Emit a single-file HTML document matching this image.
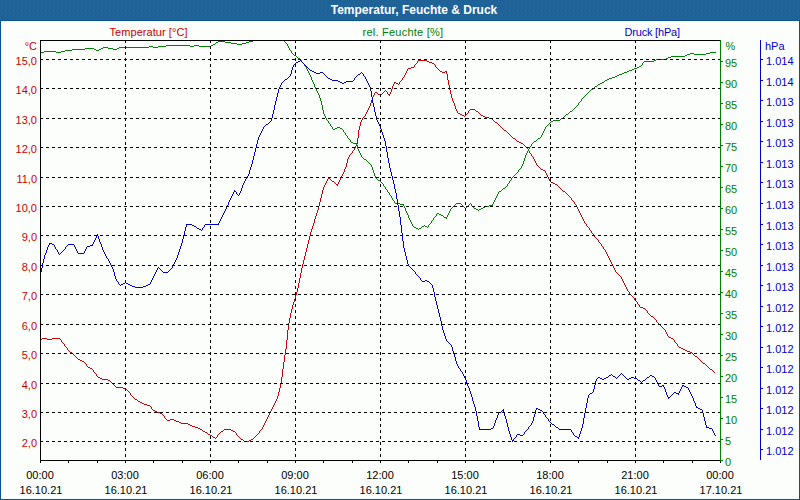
<!DOCTYPE html>
<html lang="de"><head><meta charset="utf-8"><title>Temperatur, Feuchte &amp; Druck</title>
<style>
html,body{margin:0;padding:0;background:#08548f;overflow:hidden}
svg{display:block}
text{font-family:"Liberation Sans", sans-serif;font-size:11px}
.t{font-weight:bold;fill:#fff;font-size:12px}
.r{fill:#cc0000}.g{fill:#008000}.b{fill:#0000cc}.k{fill:#000}
.ln{fill:none;stroke-width:1;shape-rendering:crispEdges}
</style></head><body>
<svg width="800" height="500" viewBox="0 0 800 500">
<rect x="0" y="0" width="800" height="500" fill="#08548f"/>
<defs><pattern id="dz" width="4" height="6" patternUnits="userSpaceOnUse"><rect width="4" height="6" fill="#1e6298"/><rect x="1" y="3" width="1" height="1" fill="#2466b0"/><rect x="0" y="5" width="1" height="1" fill="#2466b0"/><rect x="2" y="1" width="1" height="1" fill="#2466b0"/></pattern></defs>
<rect x="0" y="0" width="800" height="20" fill="#1e6298"/>
<rect x="0" y="0" width="800" height="20" fill="url(#dz)" shape-rendering="crispEdges"/>
<rect x="1" y="21" width="798" height="478" fill="#fcfefc"/>
<text class="t" x="414" y="14" text-anchor="middle">Temperatur, Feuchte &amp; Druck</text>
<text class="r" x="109.5" y="36" textLength="78">Temperatur [°C]</text>
<text class="g" x="362.5" y="36" textLength="80.5">rel. Feuchte [%]</text>
<text class="b" x="624.5" y="36" textLength="55.5">Druck [hPa]</text>
<path class="ln" stroke="#cc0000" d="M277.5 396v3M278.5 392v4M279.5 388v4M280.5 383v5M281.5 377v6M282.5 369v8M283.5 362v7M284.5 355v7M285.5 349v6M286.5 340v9M287.5 330v10M288.5 323v7M289.5 318v5M290.5 313v5M291.5 309v4M292.5 305v4M293.5 302v3M294.5 299v3M295.5 295v4M296.5 292v3M297.5 288v4M298.5 283v5M299.5 278v5M300.5 273v5M301.5 268v5M302.5 264v4M303.5 260v4M304.5 256v4M305.5 252v4M306.5 248v4M307.5 244v4M308.5 240v4M309.5 236v4M310.5 232v4M311.5 229v3M312.5 226v3M313.5 223v3M314.5 219v4M315.5 216v3M316.5 213v3M317.5 210v3M318.5 206v4M319.5 202v4M320.5 198v4M321.5 194v4M322.5 190v4M323.5 187v3M344.5 169v3M346.5 163v4M347.5 159v4M357.5 138v6M358.5 130v8M359.5 126v4M360.5 122v4M370.5 103v3M371.5 100v3M372.5 97v3M391.5 89v3M392.5 86v3M446.5 71v3M447.5 74v6M448.5 80v5M449.5 85v5M450.5 90v4M451.5 94v4M452.5 98v3M454.5 103v3M455.5 106v3M418 60.5h9M417 61.5h1M427 61.5h2M417 62.5h1M429 62.5h3M416 63.5h1M432 63.5h2M415 64.5h1M434 64.5h1M414 65.5h1M435 65.5h1M414 66.5h1M435 66.5h1M411 67.5h3M436 67.5h1M408 68.5h3M437 68.5h1M407 69.5h1M438 69.5h1M407 70.5h1M439 70.5h1M406 71.5h1M440 71.5h2M445 71.5h1M406 72.5h1M442 72.5h3M405 73.5h1M405 74.5h1M404 75.5h1M404 76.5h1M403 77.5h1M402 78.5h1M402 79.5h1M401 80.5h1M400 81.5h1M394 82.5h2M399 82.5h1M394 83.5h1M396 83.5h2M399 83.5h1M393 84.5h1M398 84.5h1M393 85.5h1M385 90.5h1M384 91.5h1M386 91.5h1M375 92.5h2M383 92.5h1M387 92.5h1M390 92.5h1M374 93.5h1M377 93.5h1M382 93.5h1M387 93.5h1M390 93.5h1M374 94.5h1M378 94.5h2M381 94.5h1M388 94.5h2M373 95.5h1M380 95.5h1M389 95.5h1M373 96.5h1M453 101.5h1M453 102.5h1M369 106.5h1M369 107.5h1M368 108.5h1M368 109.5h1M456 109.5h1M470 109.5h5M367 110.5h1M456 110.5h1M469 110.5h1M475 110.5h1M367 111.5h1M457 111.5h1M468 111.5h1M476 111.5h2M366 112.5h1M457 112.5h1M468 112.5h1M478 112.5h1M366 113.5h1M458 113.5h2M467 113.5h1M479 113.5h1M365 114.5h1M460 114.5h2M466 114.5h1M480 114.5h1M365 115.5h1M462 115.5h2M465 115.5h1M481 115.5h2M364 116.5h1M464 116.5h1M483 116.5h2M363 117.5h1M485 117.5h4M362 118.5h1M489 118.5h3M362 119.5h1M492 119.5h1M361 120.5h1M493 120.5h1M361 121.5h1M494 121.5h1M495 122.5h2M497 123.5h1M498 124.5h1M499 125.5h1M500 126.5h1M501 127.5h1M502 128.5h1M503 129.5h1M504 130.5h2M506 131.5h1M507 132.5h1M508 133.5h1M509 134.5h1M510 135.5h1M511 136.5h1M512 137.5h1M513 138.5h2M515 139.5h1M516 140.5h1M517 141.5h2M519 142.5h2M521 143.5h2M356 144.5h1M523 144.5h1M356 145.5h1M524 145.5h1M355 146.5h1M525 146.5h1M355 147.5h1M526 147.5h1M354 148.5h1M527 148.5h1M354 149.5h1M528 149.5h1M353 150.5h1M528 150.5h1M352 151.5h1M529 151.5h1M352 152.5h1M529 152.5h1M351 153.5h1M530 153.5h1M350 154.5h1M531 154.5h1M349 155.5h1M531 155.5h1M349 156.5h1M532 156.5h1M348 157.5h1M533 157.5h1M348 158.5h1M533 158.5h1M534 159.5h1M534 160.5h1M535 161.5h1M535 162.5h1M536 163.5h1M536 164.5h1M537 165.5h1M538 166.5h1M345 167.5h1M539 167.5h1M345 168.5h1M540 168.5h1M541 169.5h2M543 170.5h2M545 171.5h1M343 172.5h1M545 172.5h1M343 173.5h1M546 173.5h1M342 174.5h1M546 174.5h1M342 175.5h1M547 175.5h1M341 176.5h1M547 176.5h1M328 177.5h1M341 177.5h1M548 177.5h1M328 178.5h2M340 178.5h1M548 178.5h1M327 179.5h1M330 179.5h1M340 179.5h1M549 179.5h1M327 180.5h1M331 180.5h1M339 180.5h1M549 180.5h1M326 181.5h1M332 181.5h2M339 181.5h1M550 181.5h1M326 182.5h1M334 182.5h1M338 182.5h1M551 182.5h2M325 183.5h1M335 183.5h1M338 183.5h1M553 183.5h2M325 184.5h1M336 184.5h2M555 184.5h2M324 185.5h1M337 185.5h1M557 185.5h1M324 186.5h1M558 186.5h1M559 187.5h1M560 188.5h1M561 189.5h1M562 190.5h1M563 191.5h2M565 192.5h1M566 193.5h1M567 194.5h1M568 195.5h1M569 196.5h1M570 197.5h1M571 198.5h1M571 199.5h1M572 200.5h1M573 201.5h1M574 202.5h1M574 203.5h1M575 204.5h1M576 205.5h1M576 206.5h1M577 207.5h1M577 208.5h1M578 209.5h1M578 210.5h1M579 211.5h1M579 212.5h1M580 213.5h1M580 214.5h1M581 215.5h1M581 216.5h1M582 217.5h1M582 218.5h1M583 219.5h1M583 220.5h1M584 221.5h1M584 222.5h1M585 223.5h1M586 224.5h1M586 225.5h1M587 226.5h1M588 227.5h1M589 228.5h1M589 229.5h1M590 230.5h1M591 231.5h1M591 232.5h1M592 233.5h1M593 234.5h1M594 235.5h1M594 236.5h1M595 237.5h1M596 238.5h1M597 239.5h1M598 240.5h1M598 241.5h1M599 242.5h1M600 243.5h1M601 244.5h1M601 245.5h1M602 246.5h1M603 247.5h1M603 248.5h1M604 249.5h1M605 250.5h1M605 251.5h1M606 252.5h1M606 253.5h1M607 254.5h1M607 255.5h1M608 256.5h1M608 257.5h1M609 258.5h1M609 259.5h1M610 260.5h1M610 261.5h1M611 262.5h1M611 263.5h1M612 264.5h1M612 265.5h1M613 266.5h1M613 267.5h1M614 268.5h1M614 269.5h1M615 270.5h1M615 271.5h1M616 272.5h1M617 273.5h1M618 274.5h1M619 275.5h1M620 276.5h1M621 277.5h1M621 278.5h1M622 279.5h1M622 280.5h1M623 281.5h1M623 282.5h1M624 283.5h1M624 284.5h1M625 285.5h1M625 286.5h1M626 287.5h1M626 288.5h1M627 289.5h1M627 290.5h1M628 291.5h1M629 292.5h1M629 293.5h1M630 294.5h1M631 295.5h1M632 296.5h1M633 297.5h1M634 298.5h1M634 299.5h1M635 300.5h1M636 301.5h1M637 302.5h1M637 303.5h1M638 304.5h1M639 305.5h1M639 306.5h1M640 307.5h3M643 308.5h2M645 309.5h1M646 310.5h1M647 311.5h1M647 312.5h1M648 313.5h1M649 314.5h1M650 315.5h1M651 316.5h2M653 317.5h1M654 318.5h1M655 319.5h1M656 320.5h1M656 321.5h1M657 322.5h1M658 323.5h1M659 324.5h1M660 325.5h1M661 326.5h1M662 327.5h1M663 328.5h1M664 329.5h1M665 330.5h1M665 331.5h1M666 332.5h1M666 333.5h1M667 334.5h1M667 335.5h1M668 336.5h1M669 337.5h2M42 338.5h5M52 338.5h8M671 338.5h2M40 339.5h2M47 339.5h5M60 339.5h1M673 339.5h1M61 340.5h1M674 340.5h1M61 341.5h1M674 341.5h1M62 342.5h1M675 342.5h1M63 343.5h1M676 343.5h1M64 344.5h1M677 344.5h1M64 345.5h1M677 345.5h1M65 346.5h1M678 346.5h1M66 347.5h1M679 347.5h2M67 348.5h1M681 348.5h2M67 349.5h1M683 349.5h2M68 350.5h1M685 350.5h2M69 351.5h1M687 351.5h3M70 352.5h2M690 352.5h2M72 353.5h1M692 353.5h1M73 354.5h1M693 354.5h1M74 355.5h1M694 355.5h1M75 356.5h1M695 356.5h2M76 357.5h1M697 357.5h1M77 358.5h1M698 358.5h1M78 359.5h2M699 359.5h1M80 360.5h2M700 360.5h1M82 361.5h2M701 361.5h1M84 362.5h1M702 362.5h1M85 363.5h1M703 363.5h2M86 364.5h1M705 364.5h1M86 365.5h1M706 365.5h1M87 366.5h1M707 366.5h1M88 367.5h2M708 367.5h1M90 368.5h2M709 368.5h1M92 369.5h1M710 369.5h2M93 370.5h1M712 370.5h1M93 371.5h1M713 371.5h1M94 372.5h1M714 372.5h1M95 373.5h1M96 374.5h1M96 375.5h1M97 376.5h1M98 377.5h2M100 378.5h2M102 379.5h6M108 380.5h2M110 381.5h1M111 382.5h1M112 383.5h1M113 384.5h1M114 385.5h1M115 386.5h1M116 387.5h7M123 388.5h2M125 389.5h2M127 390.5h1M128 391.5h1M129 392.5h1M130 393.5h1M130 394.5h1M131 395.5h1M132 396.5h1M133 397.5h1M134 398.5h1M135 399.5h2M276 399.5h1M137 400.5h1M276 400.5h1M138 401.5h2M275 401.5h1M140 402.5h2M275 402.5h1M142 403.5h2M274 403.5h1M144 404.5h3M274 404.5h1M147 405.5h3M273 405.5h1M150 406.5h1M273 406.5h1M151 407.5h1M272 407.5h1M151 408.5h1M272 408.5h1M152 409.5h1M271 409.5h1M153 410.5h2M271 410.5h1M155 411.5h2M270 411.5h1M157 412.5h3M270 412.5h1M160 413.5h2M269 413.5h1M162 414.5h1M269 414.5h1M163 415.5h1M268 415.5h1M164 416.5h1M268 416.5h1M164 417.5h1M267 417.5h1M165 418.5h1M267 418.5h1M166 419.5h1M170 419.5h4M266 419.5h1M167 420.5h3M174 420.5h2M266 420.5h1M176 421.5h3M265 421.5h1M179 422.5h2M265 422.5h1M181 423.5h7M264 423.5h1M188 424.5h2M264 424.5h1M190 425.5h2M263 425.5h1M192 426.5h3M263 426.5h1M195 427.5h3M262 427.5h1M198 428.5h2M262 428.5h1M200 429.5h2M224 429.5h7M261 429.5h1M202 430.5h1M223 430.5h1M231 430.5h2M260 430.5h1M203 431.5h2M221 431.5h2M233 431.5h2M259 431.5h1M205 432.5h2M220 432.5h1M235 432.5h1M259 432.5h1M207 433.5h1M219 433.5h1M236 433.5h1M258 433.5h1M208 434.5h2M218 434.5h1M236 434.5h1M257 434.5h1M210 435.5h2M217 435.5h1M237 435.5h1M256 435.5h1M212 436.5h1M217 436.5h1M238 436.5h1M255 436.5h1M213 437.5h2M216 437.5h1M239 437.5h1M254 437.5h1M215 438.5h1M240 438.5h1M253 438.5h1M241 439.5h2M251 439.5h2M243 440.5h1M249 440.5h2M244 441.5h5"/>
<path class="ln" stroke="#008000" d="M311.5 77v3M314.5 84v3M319.5 95v3M320.5 98v3M321.5 101v4M322.5 105v5M323.5 110v4M357.5 145v4M372.5 167v3M373.5 170v3M374.5 173v3M405.5 208v3M408.5 215v3M523.5 161v3M524.5 158v3M525.5 155v3M253 40.5h31M218 41.5h7M249 41.5h4M284 41.5h1M216 42.5h2M225 42.5h6M246 42.5h3M285 42.5h1M215 43.5h1M231 43.5h6M242 43.5h4M286 43.5h1M213 44.5h2M237 44.5h5M287 44.5h1M166 45.5h24M194 45.5h5M211 45.5h2M287 45.5h1M149 46.5h4M158 46.5h8M190 46.5h4M199 46.5h12M288 46.5h1M103 47.5h5M119 47.5h30M153 47.5h5M288 47.5h1M85 48.5h9M101 48.5h2M108 48.5h5M117 48.5h2M289 48.5h1M72 49.5h13M94 49.5h2M99 49.5h2M113 49.5h4M289 49.5h1M65 50.5h7M96 50.5h3M290 50.5h1M44 51.5h12M61 51.5h4M291 51.5h1M40 52.5h4M56 52.5h5M291 52.5h1M710 52.5h6M292 53.5h1M690 53.5h4M706 53.5h4M293 54.5h1M687 54.5h3M694 54.5h12M294 55.5h2M685 55.5h2M296 56.5h1M671 56.5h14M297 57.5h1M668 57.5h3M298 58.5h2M666 58.5h2M300 59.5h1M656 59.5h10M301 60.5h1M654 60.5h2M301 61.5h1M644 61.5h10M302 62.5h1M643 62.5h1M303 63.5h1M642 63.5h1M304 64.5h1M642 64.5h1M304 65.5h1M641 65.5h1M305 66.5h1M639 66.5h2M306 67.5h1M637 67.5h2M306 68.5h1M634 68.5h3M307 69.5h1M632 69.5h2M307 70.5h1M629 70.5h3M308 71.5h1M627 71.5h2M308 72.5h1M624 72.5h3M309 73.5h1M622 73.5h2M309 74.5h1M619 74.5h3M310 75.5h1M617 75.5h2M310 76.5h1M615 76.5h2M612 77.5h3M609 78.5h3M607 79.5h2M312 80.5h1M605 80.5h2M312 81.5h1M604 81.5h1M313 82.5h1M602 82.5h2M313 83.5h1M600 83.5h2M598 84.5h2M597 85.5h1M595 86.5h2M315 87.5h1M594 87.5h1M315 88.5h1M593 88.5h1M316 89.5h1M591 89.5h2M316 90.5h1M590 90.5h1M317 91.5h1M589 91.5h1M317 92.5h1M588 92.5h1M318 93.5h1M587 93.5h1M318 94.5h1M586 94.5h1M585 95.5h1M584 96.5h1M583 97.5h1M582 98.5h1M581 99.5h1M581 100.5h1M580 101.5h1M579 102.5h1M578 103.5h1M578 104.5h1M577 105.5h1M576 106.5h1M575 107.5h1M574 108.5h1M573 109.5h1M572 110.5h1M570 111.5h2M569 112.5h1M568 113.5h1M324 114.5h1M566 114.5h2M324 115.5h1M565 115.5h1M325 116.5h1M564 116.5h1M325 117.5h1M563 117.5h1M326 118.5h1M561 118.5h2M326 119.5h1M560 119.5h1M327 120.5h1M553 120.5h7M328 121.5h1M551 121.5h2M328 122.5h1M550 122.5h1M329 123.5h1M549 123.5h1M330 124.5h1M548 124.5h1M330 125.5h1M547 125.5h1M331 126.5h1M546 126.5h1M332 127.5h1M337 127.5h3M545 127.5h1M332 128.5h1M335 128.5h2M340 128.5h2M545 128.5h1M333 129.5h2M342 129.5h1M544 129.5h1M343 130.5h1M544 130.5h1M343 131.5h1M543 131.5h1M344 132.5h1M543 132.5h1M345 133.5h1M542 133.5h1M345 134.5h1M542 134.5h1M346 135.5h1M541 135.5h1M347 136.5h1M541 136.5h1M347 137.5h1M540 137.5h1M348 138.5h1M538 138.5h2M349 139.5h1M537 139.5h1M350 140.5h1M536 140.5h1M350 141.5h1M534 141.5h2M351 142.5h2M533 142.5h1M353 143.5h4M532 143.5h1M356 144.5h1M531 144.5h1M531 145.5h1M530 146.5h1M529 147.5h1M529 148.5h1M358 149.5h1M528 149.5h1M358 150.5h1M528 150.5h1M359 151.5h1M527 151.5h1M359 152.5h1M527 152.5h1M360 153.5h1M526 153.5h1M360 154.5h1M526 154.5h1M361 155.5h1M361 156.5h1M362 157.5h1M363 158.5h1M364 159.5h2M366 160.5h1M367 161.5h1M368 162.5h1M369 163.5h1M370 164.5h1M522 164.5h1M371 165.5h1M522 165.5h1M371 166.5h1M521 166.5h1M521 167.5h1M520 168.5h1M519 169.5h1M518 170.5h1M518 171.5h1M517 172.5h1M516 173.5h1M515 174.5h1M514 175.5h1M375 176.5h1M513 176.5h1M375 177.5h1M512 177.5h1M376 178.5h1M511 178.5h1M377 179.5h1M511 179.5h1M378 180.5h2M510 180.5h1M380 181.5h1M509 181.5h1M381 182.5h1M509 182.5h1M382 183.5h1M508 183.5h1M383 184.5h1M507 184.5h1M383 185.5h1M507 185.5h1M384 186.5h1M506 186.5h1M385 187.5h1M505 187.5h1M385 188.5h1M503 188.5h2M386 189.5h1M502 189.5h1M387 190.5h1M501 190.5h1M387 191.5h1M499 191.5h2M388 192.5h1M498 192.5h1M389 193.5h1M498 193.5h1M389 194.5h1M497 194.5h1M390 195.5h1M497 195.5h1M391 196.5h1M496 196.5h1M391 197.5h1M496 197.5h1M392 198.5h1M495 198.5h1M392 199.5h1M495 199.5h1M393 200.5h1M494 200.5h1M394 201.5h1M494 201.5h1M394 202.5h1M493 202.5h1M395 203.5h5M456 203.5h5M470 203.5h1M493 203.5h1M400 204.5h4M455 204.5h1M461 204.5h1M469 204.5h1M471 204.5h1M492 204.5h1M403 205.5h1M454 205.5h1M462 205.5h1M468 205.5h1M471 205.5h1M489 205.5h4M404 206.5h1M453 206.5h1M463 206.5h1M467 206.5h1M472 206.5h1M485 206.5h4M404 207.5h1M452 207.5h1M464 207.5h1M466 207.5h1M473 207.5h1M483 207.5h2M451 208.5h1M465 208.5h1M474 208.5h2M481 208.5h2M450 209.5h1M476 209.5h2M479 209.5h2M450 210.5h1M478 210.5h1M406 211.5h1M449 211.5h1M406 212.5h1M449 212.5h1M407 213.5h1M437 213.5h2M448 213.5h1M407 214.5h1M436 214.5h1M439 214.5h2M448 214.5h1M436 215.5h1M441 215.5h2M447 215.5h1M435 216.5h1M443 216.5h1M447 216.5h1M434 217.5h1M444 217.5h3M409 218.5h1M433 218.5h1M446 218.5h1M409 219.5h1M433 219.5h1M410 220.5h1M432 220.5h1M410 221.5h1M431 221.5h1M411 222.5h1M431 222.5h1M411 223.5h1M430 223.5h1M412 224.5h1M429 224.5h1M412 225.5h1M424 225.5h1M428 225.5h1M413 226.5h1M422 226.5h2M425 226.5h2M428 226.5h1M414 227.5h2M421 227.5h1M427 227.5h1M416 228.5h2M419 228.5h2M418 229.5h1"/>
<path class="ln" stroke="#0000cc" d="M40.5 272v3M41.5 268v4M42.5 263v5M43.5 259v4M44.5 255v4M46.5 250v3M47.5 247v3M98.5 236v3M99.5 239v3M101.5 244v3M102.5 247v3M113.5 269v3M114.5 272v4M115.5 276v3M177.5 255v3M178.5 252v3M179.5 249v3M180.5 246v3M181.5 243v3M182.5 239v4M183.5 235v4M184.5 231v4M185.5 227v4M186.5 224v3M228.5 202v3M241.5 188v3M242.5 185v3M249.5 170v4M250.5 167v3M251.5 164v3M252.5 160v4M253.5 156v4M254.5 152v4M255.5 148v4M256.5 144v4M257.5 140v4M258.5 137v3M271.5 118v3M272.5 114v4M273.5 110v4M274.5 105v5M275.5 101v4M276.5 97v4M277.5 93v4M278.5 89v4M291.5 70v4M292.5 67v3M370.5 87v4M371.5 91v6M372.5 97v6M373.5 103v4M374.5 107v5M375.5 112v4M376.5 116v4M380.5 126v3M381.5 129v3M382.5 132v3M383.5 135v3M384.5 138v3M385.5 141v5M386.5 146v6M387.5 152v6M388.5 158v5M389.5 163v5M390.5 168v4M391.5 172v4M392.5 176v4M393.5 180v4M394.5 184v5M395.5 189v4M396.5 193v6M397.5 199v6M398.5 205v6M399.5 211v6M400.5 217v8M401.5 225v8M402.5 233v8M403.5 241v7M404.5 248v4M405.5 252v4M406.5 256v4M407.5 260v4M432.5 285v3M433.5 288v4M434.5 292v5M435.5 297v4M436.5 301v4M437.5 305v4M438.5 309v4M439.5 313v4M440.5 317v4M441.5 321v5M442.5 326v4M443.5 330v3M444.5 333v3M445.5 336v3M452.5 347v4M453.5 351v3M454.5 354v3M455.5 357v4M456.5 361v3M466.5 380v3M467.5 383v3M469.5 388v3M470.5 391v3M471.5 394v3M472.5 397v4M473.5 401v3M474.5 404v3M475.5 407v4M476.5 411v5M477.5 416v5M478.5 421v6M479.5 427v3M494.5 423v3M495.5 420v3M497.5 415v3M503.5 409v3M504.5 412v4M505.5 416v3M506.5 419v4M507.5 423v4M508.5 427v4M509.5 431v3M510.5 434v3M511.5 437v3M533.5 417v4M534.5 414v3M535.5 410v4M579.5 434v3M580.5 431v3M581.5 428v3M582.5 424v4M583.5 418v6M584.5 413v5M585.5 408v5M586.5 403v5M587.5 398v5M588.5 395v3M593.5 389v3M594.5 385v4M595.5 381v4M665.5 389v3M666.5 392v3M693.5 398v3M695.5 403v3M702.5 410v3M703.5 413v4M704.5 417v4M705.5 421v4M706.5 425v3M300 60.5h1M298 61.5h2M301 61.5h1M296 62.5h2M302 62.5h1M295 63.5h1M303 63.5h1M294 64.5h1M304 64.5h1M293 65.5h1M305 65.5h1M293 66.5h1M306 66.5h1M307 67.5h1M308 68.5h1M309 69.5h1M310 70.5h2M312 71.5h2M314 72.5h2M320 72.5h3M361 72.5h1M316 73.5h4M323 73.5h1M360 73.5h1M362 73.5h1M290 74.5h1M324 74.5h1M358 74.5h2M363 74.5h1M290 75.5h1M325 75.5h1M357 75.5h1M363 75.5h1M289 76.5h1M326 76.5h1M356 76.5h1M364 76.5h1M288 77.5h1M327 77.5h1M355 77.5h1M365 77.5h1M287 78.5h1M328 78.5h2M354 78.5h1M365 78.5h1M285 79.5h2M330 79.5h2M354 79.5h1M366 79.5h1M284 80.5h1M332 80.5h6M353 80.5h1M366 80.5h1M283 81.5h1M338 81.5h2M346 81.5h7M367 81.5h1M282 82.5h1M340 82.5h2M344 82.5h2M367 82.5h1M281 83.5h1M342 83.5h2M368 83.5h1M281 84.5h1M368 84.5h1M280 85.5h1M369 85.5h1M280 86.5h1M369 86.5h1M279 87.5h1M279 88.5h1M377 120.5h1M270 121.5h1M377 121.5h1M269 122.5h1M378 122.5h1M268 123.5h1M378 123.5h1M266 124.5h2M379 124.5h1M265 125.5h1M379 125.5h1M264 126.5h1M263 127.5h1M263 128.5h1M262 129.5h1M262 130.5h1M261 131.5h1M261 132.5h1M260 133.5h1M260 134.5h1M259 135.5h1M259 136.5h1M248 174.5h1M248 175.5h1M247 176.5h1M247 177.5h1M246 178.5h1M245 179.5h1M245 180.5h1M244 181.5h1M244 182.5h1M243 183.5h1M243 184.5h1M234 190.5h1M234 191.5h2M240 191.5h1M233 192.5h1M236 192.5h1M240 192.5h1M233 193.5h1M236 193.5h1M239 193.5h1M232 194.5h1M237 194.5h1M239 194.5h1M232 195.5h1M238 195.5h1M231 196.5h1M231 197.5h1M230 198.5h1M230 199.5h1M229 200.5h1M229 201.5h1M227 205.5h1M227 206.5h1M226 207.5h1M226 208.5h1M225 209.5h1M225 210.5h1M224 211.5h1M224 212.5h1M223 213.5h1M223 214.5h1M222 215.5h1M222 216.5h1M221 217.5h1M221 218.5h1M220 219.5h1M220 220.5h1M219 221.5h1M219 222.5h1M218 223.5h1M187 224.5h5M205 224.5h14M192 225.5h2M204 225.5h1M194 226.5h2M204 226.5h1M196 227.5h1M203 227.5h1M197 228.5h2M202 228.5h1M199 229.5h2M202 229.5h1M201 230.5h1M97 234.5h1M97 235.5h1M96 236.5h1M96 237.5h1M95 238.5h1M95 239.5h1M94 240.5h1M94 241.5h1M93 242.5h1M100 242.5h1M49 243.5h3M93 243.5h1M100 243.5h1M49 244.5h1M52 244.5h2M68 244.5h6M92 244.5h1M48 245.5h1M54 245.5h1M67 245.5h1M74 245.5h1M90 245.5h3M48 246.5h1M54 246.5h1M66 246.5h1M74 246.5h1M87 246.5h3M55 247.5h1M65 247.5h1M75 247.5h1M86 247.5h1M55 248.5h1M65 248.5h1M75 248.5h1M86 248.5h1M56 249.5h1M64 249.5h1M76 249.5h1M85 249.5h1M57 250.5h1M63 250.5h1M76 250.5h1M85 250.5h1M103 250.5h1M57 251.5h1M62 251.5h1M77 251.5h1M84 251.5h1M103 251.5h1M58 252.5h1M61 252.5h1M77 252.5h1M84 252.5h1M104 252.5h1M45 253.5h1M58 253.5h1M60 253.5h1M78 253.5h6M104 253.5h1M45 254.5h1M59 254.5h1M105 254.5h1M105 255.5h1M106 256.5h1M106 257.5h1M107 258.5h1M176 258.5h1M108 259.5h1M176 259.5h1M108 260.5h1M175 260.5h1M109 261.5h1M175 261.5h1M109 262.5h1M174 262.5h1M110 263.5h1M174 263.5h1M110 264.5h1M173 264.5h1M408 264.5h1M111 265.5h1M173 265.5h1M408 265.5h1M111 266.5h1M172 266.5h1M409 266.5h1M112 267.5h1M158 267.5h1M172 267.5h1M410 267.5h1M112 268.5h1M157 268.5h1M159 268.5h1M171 268.5h1M411 268.5h1M157 269.5h1M160 269.5h1M170 269.5h1M412 269.5h1M156 270.5h1M161 270.5h1M169 270.5h1M413 270.5h1M156 271.5h1M162 271.5h1M168 271.5h1M414 271.5h1M155 272.5h1M163 272.5h5M415 272.5h1M155 273.5h1M415 273.5h1M154 274.5h1M416 274.5h1M154 275.5h1M417 275.5h1M153 276.5h1M418 276.5h1M153 277.5h1M419 277.5h1M152 278.5h1M420 278.5h1M116 279.5h1M152 279.5h1M420 279.5h1M116 280.5h1M151 280.5h1M421 280.5h1M425 280.5h2M117 281.5h1M151 281.5h1M422 281.5h3M427 281.5h2M118 282.5h1M125 282.5h1M150 282.5h1M429 282.5h1M118 283.5h1M123 283.5h2M126 283.5h2M150 283.5h1M430 283.5h1M119 284.5h1M121 284.5h2M128 284.5h2M148 284.5h2M431 284.5h1M120 285.5h1M130 285.5h2M146 285.5h2M132 286.5h3M143 286.5h3M135 287.5h8M446 339.5h1M446 340.5h1M447 341.5h1M448 342.5h1M449 343.5h1M450 344.5h1M451 345.5h1M451 346.5h1M457 364.5h1M457 365.5h1M458 366.5h1M458 367.5h1M459 368.5h1M460 369.5h1M460 370.5h1M461 371.5h1M462 372.5h1M462 373.5h1M621 373.5h1M463 374.5h1M611 374.5h1M620 374.5h1M622 374.5h1M463 375.5h1M609 375.5h2M612 375.5h1M619 375.5h1M623 375.5h1M650 375.5h2M464 376.5h1M608 376.5h1M613 376.5h2M618 376.5h1M624 376.5h1M649 376.5h1M652 376.5h2M464 377.5h1M598 377.5h2M606 377.5h2M615 377.5h1M617 377.5h1M625 377.5h1M631 377.5h3M647 377.5h2M654 377.5h1M465 378.5h1M597 378.5h1M600 378.5h2M604 378.5h2M616 378.5h1M626 378.5h1M629 378.5h2M634 378.5h3M646 378.5h1M655 378.5h1M465 379.5h1M596 379.5h1M602 379.5h2M627 379.5h2M637 379.5h1M645 379.5h1M655 379.5h1M596 380.5h1M638 380.5h2M643 380.5h2M656 380.5h1M640 381.5h1M642 381.5h1M656 381.5h1M641 382.5h1M657 382.5h1M657 383.5h1M658 384.5h1M658 385.5h1M662 385.5h2M682 385.5h2M468 386.5h1M659 386.5h3M663 386.5h1M682 386.5h1M684 386.5h2M468 387.5h1M664 387.5h1M681 387.5h1M686 387.5h2M664 388.5h1M681 388.5h1M688 388.5h1M680 389.5h1M688 389.5h1M680 390.5h1M689 390.5h1M679 391.5h1M689 391.5h1M592 392.5h1M674 392.5h2M679 392.5h1M690 392.5h1M590 393.5h2M673 393.5h1M676 393.5h3M690 393.5h1M589 394.5h1M672 394.5h1M678 394.5h1M691 394.5h1M667 395.5h1M671 395.5h1M691 395.5h1M667 396.5h1M670 396.5h1M692 396.5h1M668 397.5h2M692 397.5h1M668 398.5h1M694 401.5h1M694 402.5h1M696 406.5h1M696 407.5h2M536 408.5h2M698 408.5h2M536 409.5h1M538 409.5h2M700 409.5h2M502 410.5h1M540 410.5h2M501 411.5h1M542 411.5h1M499 412.5h2M543 412.5h1M498 413.5h1M543 413.5h1M498 414.5h1M544 414.5h1M545 415.5h1M545 416.5h1M546 417.5h1M496 418.5h1M547 418.5h1M496 419.5h1M548 419.5h1M548 420.5h1M532 421.5h1M549 421.5h1M532 422.5h1M550 422.5h1M531 423.5h1M551 423.5h1M531 424.5h1M552 424.5h2M530 425.5h1M554 425.5h1M493 426.5h1M529 426.5h1M555 426.5h1M493 427.5h1M528 427.5h1M556 427.5h2M707 427.5h2M491 428.5h2M528 428.5h1M558 428.5h1M709 428.5h3M480 429.5h11M527 429.5h1M559 429.5h12M712 429.5h1M526 430.5h1M571 430.5h1M712 430.5h1M525 431.5h1M571 431.5h1M713 431.5h1M524 432.5h1M572 432.5h1M713 432.5h1M524 433.5h1M573 433.5h1M714 433.5h1M517 434.5h3M523 434.5h1M573 434.5h1M714 434.5h1M516 435.5h1M520 435.5h3M574 435.5h1M715 435.5h1M516 436.5h1M575 436.5h2M515 437.5h1M577 437.5h2M514 438.5h1M578 438.5h1M513 439.5h1M512 440.5h2M512 441.5h1"/>
<g class="ln" stroke="#000" stroke-dasharray="3 3">
<line x1="40" y1="441.5" x2="720" y2="441.5"/>
<line x1="40" y1="412.5" x2="720" y2="412.5"/>
<line x1="40" y1="383.5" x2="720" y2="383.5"/>
<line x1="40" y1="353.5" x2="720" y2="353.5"/>
<line x1="40" y1="324.5" x2="720" y2="324.5"/>
<line x1="40" y1="294.5" x2="720" y2="294.5"/>
<line x1="40" y1="265.5" x2="720" y2="265.5"/>
<line x1="40" y1="235.5" x2="720" y2="235.5"/>
<line x1="40" y1="206.5" x2="720" y2="206.5"/>
<line x1="40" y1="177.5" x2="720" y2="177.5"/>
<line x1="40" y1="147.5" x2="720" y2="147.5"/>
<line x1="40" y1="118.5" x2="720" y2="118.5"/>
<line x1="40" y1="88.5" x2="720" y2="88.5"/>
<line x1="40" y1="59.5" x2="720" y2="59.5"/>
<line x1="125.5" y1="40" x2="125.5" y2="460"/>
<line x1="210.5" y1="40" x2="210.5" y2="460"/>
<line x1="295.5" y1="40" x2="295.5" y2="460"/>
<line x1="380.5" y1="40" x2="380.5" y2="460"/>
<line x1="465.5" y1="40" x2="465.5" y2="460"/>
<line x1="550.5" y1="40" x2="550.5" y2="460"/>
<line x1="635.5" y1="40" x2="635.5" y2="460"/>
</g>
<g class="ln" stroke="#000">
<line x1="40.5" y1="40" x2="40.5" y2="461"/>
<line x1="40" y1="40.5" x2="721" y2="40.5"/>
<line x1="40" y1="460.5" x2="721" y2="460.5"/>
<line x1="40.5" y1="461" x2="40.5" y2="463"/>
<line x1="68.5" y1="461" x2="68.5" y2="463"/>
<line x1="97.5" y1="461" x2="97.5" y2="463"/>
<line x1="125.5" y1="461" x2="125.5" y2="463"/>
<line x1="153.5" y1="461" x2="153.5" y2="463"/>
<line x1="182.5" y1="461" x2="182.5" y2="463"/>
<line x1="210.5" y1="461" x2="210.5" y2="463"/>
<line x1="238.5" y1="461" x2="238.5" y2="463"/>
<line x1="267.5" y1="461" x2="267.5" y2="463"/>
<line x1="295.5" y1="461" x2="295.5" y2="463"/>
<line x1="323.5" y1="461" x2="323.5" y2="463"/>
<line x1="352.5" y1="461" x2="352.5" y2="463"/>
<line x1="380.5" y1="461" x2="380.5" y2="463"/>
<line x1="408.5" y1="461" x2="408.5" y2="463"/>
<line x1="437.5" y1="461" x2="437.5" y2="463"/>
<line x1="465.5" y1="461" x2="465.5" y2="463"/>
<line x1="493.5" y1="461" x2="493.5" y2="463"/>
<line x1="522.5" y1="461" x2="522.5" y2="463"/>
<line x1="550.5" y1="461" x2="550.5" y2="463"/>
<line x1="578.5" y1="461" x2="578.5" y2="463"/>
<line x1="607.5" y1="461" x2="607.5" y2="463"/>
<line x1="635.5" y1="461" x2="635.5" y2="463"/>
<line x1="663.5" y1="461" x2="663.5" y2="463"/>
<line x1="692.5" y1="461" x2="692.5" y2="463"/>
<line x1="720.5" y1="461" x2="720.5" y2="463"/>
</g>
<g class="ln" stroke="#008000">
<line x1="720.5" y1="40" x2="720.5" y2="461"/>
<line x1="721" y1="460.5" x2="723" y2="460.5"/>
<line x1="721" y1="439.5" x2="723" y2="439.5"/>
<line x1="721" y1="418.5" x2="723" y2="418.5"/>
<line x1="721" y1="397.5" x2="723" y2="397.5"/>
<line x1="721" y1="376.5" x2="723" y2="376.5"/>
<line x1="721" y1="355.5" x2="723" y2="355.5"/>
<line x1="721" y1="334.5" x2="723" y2="334.5"/>
<line x1="721" y1="313.5" x2="723" y2="313.5"/>
<line x1="721" y1="292.5" x2="723" y2="292.5"/>
<line x1="721" y1="271.5" x2="723" y2="271.5"/>
<line x1="721" y1="250.5" x2="723" y2="250.5"/>
<line x1="721" y1="229.5" x2="723" y2="229.5"/>
<line x1="721" y1="208.5" x2="723" y2="208.5"/>
<line x1="721" y1="187.5" x2="723" y2="187.5"/>
<line x1="721" y1="166.5" x2="723" y2="166.5"/>
<line x1="721" y1="145.5" x2="723" y2="145.5"/>
<line x1="721" y1="124.5" x2="723" y2="124.5"/>
<line x1="721" y1="103.5" x2="723" y2="103.5"/>
<line x1="721" y1="82.5" x2="723" y2="82.5"/>
<line x1="721" y1="61.5" x2="723" y2="61.5"/>
</g>
<g class="ln" stroke="#0000cc">
<line x1="760.5" y1="40" x2="760.5" y2="460"/>
<line x1="761" y1="449.5" x2="763" y2="449.5"/>
<line x1="761" y1="429.5" x2="763" y2="429.5"/>
<line x1="761" y1="408.5" x2="763" y2="408.5"/>
<line x1="761" y1="388.5" x2="763" y2="388.5"/>
<line x1="761" y1="367.5" x2="763" y2="367.5"/>
<line x1="761" y1="347.5" x2="763" y2="347.5"/>
<line x1="761" y1="326.5" x2="763" y2="326.5"/>
<line x1="761" y1="306.5" x2="763" y2="306.5"/>
<line x1="761" y1="285.5" x2="763" y2="285.5"/>
<line x1="761" y1="265.5" x2="763" y2="265.5"/>
<line x1="761" y1="244.5" x2="763" y2="244.5"/>
<line x1="761" y1="224.5" x2="763" y2="224.5"/>
<line x1="761" y1="203.5" x2="763" y2="203.5"/>
<line x1="761" y1="182.5" x2="763" y2="182.5"/>
<line x1="761" y1="162.5" x2="763" y2="162.5"/>
<line x1="761" y1="141.5" x2="763" y2="141.5"/>
<line x1="761" y1="121.5" x2="763" y2="121.5"/>
<line x1="761" y1="100.5" x2="763" y2="100.5"/>
<line x1="761" y1="80.5" x2="763" y2="80.5"/>
<line x1="761" y1="59.5" x2="763" y2="59.5"/>
</g>
<g class="r" text-anchor="end">
<text x="37" y="50">°C</text>
<text x="37" y="447">2,0</text>
<text x="37" y="418">3,0</text>
<text x="37" y="389">4,0</text>
<text x="37" y="359">5,0</text>
<text x="37" y="330">6,0</text>
<text x="37" y="300">7,0</text>
<text x="37" y="271">8,0</text>
<text x="37" y="241">9,0</text>
<text x="37" y="212">10,0</text>
<text x="37" y="183">11,0</text>
<text x="37" y="153">12,0</text>
<text x="37" y="124">13,0</text>
<text x="37" y="94">14,0</text>
<text x="37" y="65">15,0</text>
</g>
<g class="g">
<text x="725.5" y="50">%</text>
<text x="725" y="466">0</text>
<text x="725" y="445">5</text>
<text x="725" y="424">10</text>
<text x="725" y="403">15</text>
<text x="725" y="382">20</text>
<text x="725" y="361">25</text>
<text x="725" y="340">30</text>
<text x="725" y="319">35</text>
<text x="725" y="298">40</text>
<text x="725" y="277">45</text>
<text x="725" y="256">50</text>
<text x="725" y="235">55</text>
<text x="725" y="214">60</text>
<text x="725" y="193">65</text>
<text x="725" y="172">70</text>
<text x="725" y="151">75</text>
<text x="725" y="130">80</text>
<text x="725" y="109">85</text>
<text x="725" y="88">90</text>
<text x="725" y="67">95</text>
</g>
<g class="b">
<text x="765" y="50">hPa</text>
<text x="766" y="455">1.012</text>
<text x="766" y="435">1.012</text>
<text x="766" y="414">1.012</text>
<text x="766" y="394">1.012</text>
<text x="766" y="373">1.012</text>
<text x="766" y="353">1.012</text>
<text x="766" y="332">1.012</text>
<text x="766" y="312">1.012</text>
<text x="766" y="291">1.013</text>
<text x="766" y="271">1.013</text>
<text x="766" y="250">1.013</text>
<text x="766" y="230">1.013</text>
<text x="766" y="209">1.013</text>
<text x="766" y="188">1.013</text>
<text x="766" y="168">1.013</text>
<text x="766" y="147">1.013</text>
<text x="766" y="127">1.013</text>
<text x="766" y="106">1.013</text>
<text x="766" y="86">1.014</text>
<text x="766" y="65">1.014</text>
</g>
<g class="k" text-anchor="middle">
<text x="40" y="479">00:00</text>
<text x="41" y="494">16.10.21</text>
<text x="125" y="479">03:00</text>
<text x="126" y="494">16.10.21</text>
<text x="210" y="479">06:00</text>
<text x="211" y="494">16.10.21</text>
<text x="295" y="479">09:00</text>
<text x="296" y="494">16.10.21</text>
<text x="380" y="479">12:00</text>
<text x="381" y="494">16.10.21</text>
<text x="465" y="479">15:00</text>
<text x="466" y="494">16.10.21</text>
<text x="550" y="479">18:00</text>
<text x="551" y="494">16.10.21</text>
<text x="635" y="479">21:00</text>
<text x="636" y="494">16.10.21</text>
<text x="720" y="479">00:00</text>
<text x="721" y="494">17.10.21</text>
</g>
</svg></body></html>
